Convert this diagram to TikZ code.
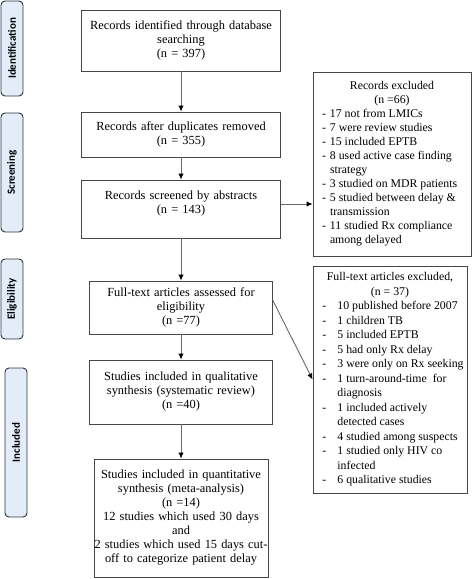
\documentclass[tikz,border=0pt]{standalone}
\usepackage{fontspec}
\setmainfont{Liberation Serif}
\newfontfamily\stagefont{Carlito}
\usetikzlibrary{arrows.meta, positioning}
\definecolor{stagefill}{RGB}{226,237,249}
\definecolor{stageline}{RGB}{45,50,60}
\definecolor{boxline}{RGB}{70,70,70}
\definecolor{flowline}{RGB}{105,105,105}
\tikzset{>/.tip={Latex[length=6pt,width=5.5pt,color=black]}}
\tikzset{stage/.style={draw=stageline, fill=stagefill, line width=0.9pt, rounded corners=4pt,
    rotate=90, minimum height=22pt, inner sep=0pt, font=\stagefont\bfseries\fontsize{11}{13}\selectfont}}
\tikzset{recbox/.style={draw=boxline, line width=0.9pt, align=center, inner sep=0pt,
    font=\fontsize{12.4}{14}\selectfont}}
\tikzset{exbox/.style={draw=boxline, line width=0.9pt, inner xsep=9pt, inner ysep=0pt,
    font=\fontsize{11.8}{14}\selectfont}}
\tikzset{flow/.style={draw=flowline, line width=0.9pt, ->}}

\begin{document}
\begin{tikzpicture}[x=1pt, y=-1pt]
\useasboundingbox (0,0) rectangle (473,579);
% stages
\node[stage, minimum width=95pt] (ident) at (12,48.5) {Identification};
\node[stage, minimum width=119pt] (screen) at (12,172.5) {Screening};
\node[stage, minimum width=80pt] (elig) at (12,299) {Eligibility};
\node[stage, minimum width=149pt] (incl) at (16,442.5) {Included};
% main flow
\node[recbox, text width=199pt, minimum height=61pt] (found) at (181,40.5)
    {Records identified through database\\searching\\(n = 397)};
\node[recbox, text width=199pt, minimum height=45pt] (dedup) at (181,134.5)
    {Records after duplicates removed\\(n = 355)};
\node[recbox, text width=199pt, minimum height=58pt] (abstr) at (181,209)
    {Records screened by abstracts\\(n = 143)\\ \mbox{}};
\node[recbox, text width=183pt, minimum height=53pt] (fulltext) at (181,307.5)
    {Full-text articles assessed for\\eligibility\\(n =77)};
\node[recbox, text width=183pt, minimum height=64pt] (qual) at (181,392)
    {Studies included in qualitative\\synthesis (systematic review)\\(n =40)};
\node[recbox, text width=174pt, minimum height=118pt] (quant) at (181,518)
    {Studies included in quantitative\\synthesis (meta-analysis)\\(n =14)\\12 studies which used 30 days\\and\\2 studies which used 15 days cut-\\off to categorize patient delay};
% exclusions
\node[exbox, minimum height=184pt] (excl) at (392,164)
    {\begin{tabular}{@{}p{8pt}@{}p{132pt}@{}}
     \multicolumn{2}{c}{Records excluded}\\
     \multicolumn{2}{c}{(n =66)}\\
     - & 17 not from LMICs\\
     - & 7 were review studies\\
     - & 15 included EPTB\\
     - & 8 used active case finding\\
       & strategy\\
     - & 3 studied on MDR patients\\
     - & 5 studied between delay \&\\
       & transmission\\
     - & 11 studied Rx compliance\\
       & among delayed
     \end{tabular}};
\node[exbox, minimum height=227pt, minimum width=154pt, inner xsep=0pt,
      font=\fontsize{11.8}{14.5}\selectfont] (ftexcl) at (390,379.5)
    {\begin{tabular}{@{\hspace{6pt}}p{15pt}@{}l@{}}
     \multicolumn{2}{c}{Full-text articles excluded,}\\
     \multicolumn{2}{c}{(n = 37)}\\
     - & 10 published before 2007\\
     - & 1 children TB\\
     - & 5 included EPTB\\
     - & 5 had only Rx delay\\
     - & 3 were only on Rx seeking\\
     - & 1 turn-around-time\ \ for\\
       & diagnosis\\
     - & 1 included actively\\
       & detected cases\\
     - & 4 studied among suspects\\
     - & 1 studied only HIV co\\
       & infected\\
     - & 6 qualitative studies
     \end{tabular}};
% connectors
\draw[flow] (found) -- (dedup);
\draw[flow] (dedup) -- (abstr);
\draw[flow] (abstr) -- (fulltext);
\draw[flow] (fulltext) -- (qual);
\draw[flow] (qual) -- (quant);
\draw[flow] ([yshift=5pt]abstr.east) -- ([yshift=5pt]abstr.east -| excl.west);
\draw[flow] ([yshift=7pt]fulltext.east) -- (ftexcl.west);
\end{tikzpicture}
\end{document}
